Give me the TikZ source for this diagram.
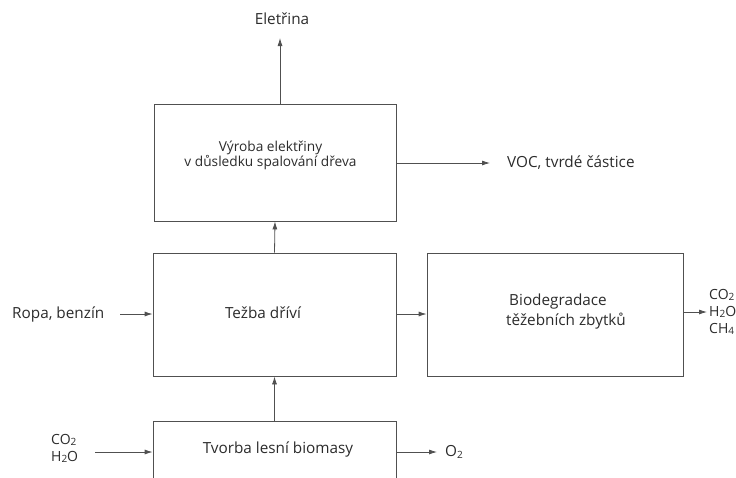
\documentclass[tikz,border=0pt]{standalone}
\usepackage{fontspec}
\setmainfont{Open Sans}
\usetikzlibrary{arrows.meta}
\definecolor{txt}{HTML}{2B2B2B}
\definecolor{ln}{HTML}{505050}
\newcommand{\sbs}[1]{\raisebox{-0.15ex}{\fontsize{10}{10}\selectfont #1}}
\tikzset{
  box/.style={draw=ln, line width=0.8pt, rectangle, inner sep=0pt},
  boxtext/.style={text=txt, inner sep=0pt, align=center},
  lbl/.style={text=txt, inner sep=0pt, font=\fontsize{15.3}{17}\selectfont, align=left},
  arr/.style={draw=ln, line width=0.8pt, -{Latex[length=8pt,width=5pt]}},
}
\begin{document}
\begin{tikzpicture}[x=1pt,y=-1pt]
\useasboundingbox (0,0) rectangle (736,477);
\clip (0,0) rectangle (736,477);
% boxes
\node[box, minimum width=242pt, minimum height=117pt] (vyroba) at (275,162.5) {};
\node[box, minimum width=243pt, minimum height=123pt] (tezba) at (274.5,314.5) {};
\node[box, minimum width=256pt, minimum height=123pt] (bio) at (555,314.5) {};
\node[box, minimum width=243pt, minimum height=62pt] (tvorba) at (274.5,452) {};
% box texts
\node[boxtext, font=\fontsize{13.7}{15.5}\selectfont] (vyrobaT) at (270.5,155.5) {Výroba elektřiny\\v důsledku spalování dřeva};
\node[boxtext, font=\fontsize{15.3}{17}\selectfont] (tezbaT) at (263,313) {Težba dříví};
\node[boxtext, font=\fontsize{15.3}{20}\selectfont] (bioT) at (566,312) {\hspace*{-16pt}Biodegradace\\těžebních zbytků};
\node[boxtext, font=\fontsize{15.3}{17}\selectfont] (tvorbaT) at (278,449) {Tvorba lesní biomasy};
% labels
\node[lbl, anchor=center] (ele) at (282,19) {Eletřina};
\node[lbl, anchor=west] (voc) at (507,163) {VOC, tvrdé částice};
\node[lbl, anchor=west] (ropa) at (12,314) {Ropa, benzín};
\node[lbl, anchor=west, font=\fontsize{14}{17}\selectfont] (outb) at (709,312) {CO\sbs{2}\\H\sbs{2}O\\CH\sbs{4}};
\node[lbl, anchor=west, font=\fontsize{14}{17}\selectfont] (inco) at (51,448.5) {CO\sbs{2}\\H\sbs{2}O};
\node[lbl, anchor=west] (o2) at (445,452) {O\sbs{2}};
% connector ends
\coordinate (eleA) at (280,38);
\coordinate (vocA) at (490,163);
\coordinate (ropaA) at (120,314);
\coordinate (outA) at (707,312);
\coordinate (incoA) at (95,452);
\coordinate (o2A) at (437,452);
% connectors
\draw[arr] (vyroba.north -| eleA) -- (eleA);
\draw[arr] (vyroba.east |- vocA) -- (vocA);
\draw[arr] (tezba.north) -- (vyroba.south);
\draw[arr] (ropaA) -- (ropaA -| tezba.west);
\draw[arr] (tezba.east |- ropaA) -- (bio.west |- ropaA);
\draw[arr] (bio.east |- outA) -- (outA);
\draw[arr] (tvorba.north) -- (tezba.south);
\draw[arr] (incoA) -- (incoA -| tvorba.west);
\draw[arr] (tvorba.east |- o2A) -- (o2A);
\end{tikzpicture}
\end{document}
